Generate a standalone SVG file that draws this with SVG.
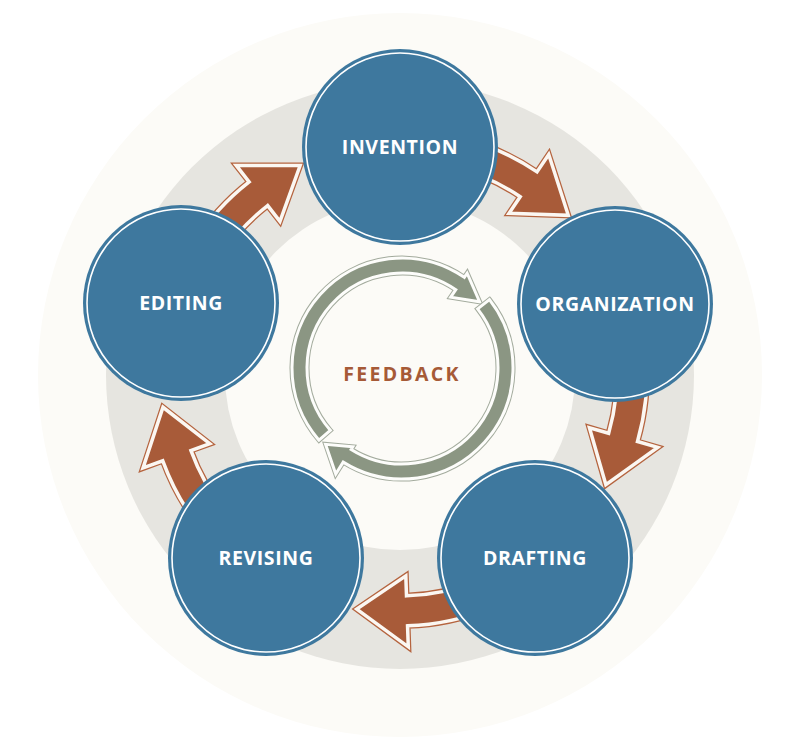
<svg xmlns="http://www.w3.org/2000/svg" width="801" height="737" viewBox="0 0 801 737">
<style>
.bg{fill:#ffffff}
.pale{fill:#fcfbf7}
.ring{fill:#e6e5e0}
.ro{fill:#a85b39;stroke:#b5643f;stroke-width:6;stroke-linejoin:miter}
.rf{fill:#a85b39;stroke:#fbf7f2;stroke-width:3.5;stroke-linejoin:miter}
.go{fill:#8b9683;stroke:#a3ab9d;stroke-width:5;stroke-linejoin:miter}
.gf{fill:#8b9683;stroke:#fdfdfb;stroke-width:3;stroke-linejoin:miter}
.nd{fill:#3e789e}
.ndr{fill:none;stroke:#ffffff;stroke-width:1.6}
.lbl{font-family:"Open Sans","Noto Sans","Liberation Sans",sans-serif;font-weight:700;font-size:19.5px;fill:#ffffff;text-anchor:middle;letter-spacing:0.6px}
.fb{font-family:"Open Sans","Noto Sans","Liberation Sans",sans-serif;font-weight:700;font-size:19.5px;fill:#a65a37;text-anchor:middle;letter-spacing:2.3px}
</style>
<defs>
<path id="ra" d="M459.27,137.28 A245,245 0 0 1 537,171.89 L548.74,154.48 L568.29,215.3 L509.04,213.34 L520.23,196.76 A215,215 0 0 0 452.01,166.39 Z"/>
</defs>
<rect class="bg" x="0" y="0" width="801" height="737"/>
<g id="background">
<circle class="pale" cx="400" cy="375" r="362"/>
<circle class="ring" cx="400" cy="375" r="294"/>
<circle class="pale" cx="400" cy="375" r="175"/>
</g>
<g id="connectors">
<g transform="rotate(0 400 375)"><use href="#ra" class="ro"/><use href="#ra" class="rf"/></g>
<g transform="translate(2,-1) rotate(72 400 375)"><use href="#ra" class="ro"/><use href="#ra" class="rf"/></g>
<g transform="translate(-1,6) rotate(144 400 375)"><use href="#ra" class="ro"/><use href="#ra" class="rf"/></g>
<g transform="translate(-7,2) rotate(216 400 375)"><use href="#ra" class="ro"/><use href="#ra" class="rf"/></g>
<g transform="rotate(288 400 375)"><use href="#ra" class="ro"/><use href="#ra" class="rf"/></g>
</g>
<g id="feedback">
<path class="go" d="M318.98,440.17 A110,110 0 0 1 464.31,277.35 L467.14,273.23 L479.56,301.76 L450.71,297.12 L455.81,289.71 A95,95 0 0 0 330.3,430.33 Z"/>
<path class="gf" d="M318.98,440.17 A110,110 0 0 1 464.31,277.35 L467.14,273.23 L479.56,301.76 L450.71,297.12 L455.81,289.71 A95,95 0 0 0 330.3,430.33 Z"/>
<path class="go" d="M489.47,299.66 A111,111 0 0 1 343.18,462.13 L335.76,474.01 L325.63,444.37 L352.72,446.87 L351.13,449.41 A96,96 0 0 0 477.65,308.9 Z"/>
<path class="gf" d="M489.47,299.66 A111,111 0 0 1 343.18,462.13 L335.76,474.01 L325.63,444.37 L352.72,446.87 L351.13,449.41 A96,96 0 0 0 477.65,308.9 Z"/>
<text class="fb" x="402" y="381">FEEDBACK</text>
</g>
<g id="invention">
<circle class="nd" cx="400" cy="147" r="98"/>
<circle class="ndr" cx="400" cy="147" r="94"/>
<text class="lbl" x="400" y="154">INVENTION</text>
</g>
<g id="organization">
<circle class="nd" cx="615" cy="304" r="98"/>
<circle class="ndr" cx="615" cy="304" r="94"/>
<text class="lbl" x="615" y="311">ORGANIZATION</text>
</g>
<g id="drafting">
<circle class="nd" cx="535" cy="558" r="98"/>
<circle class="ndr" cx="535" cy="558" r="94"/>
<text class="lbl" x="535" y="565">DRAFTING</text>
</g>
<g id="revising">
<circle class="nd" cx="266" cy="558" r="98"/>
<circle class="ndr" cx="266" cy="558" r="94"/>
<text class="lbl" x="266" y="565">REVISING</text>
</g>
<g id="editing">
<circle class="nd" cx="181" cy="303" r="98"/>
<circle class="ndr" cx="181" cy="303" r="94"/>
<text class="lbl" x="181" y="310">EDITING</text>
</g>
</svg>
